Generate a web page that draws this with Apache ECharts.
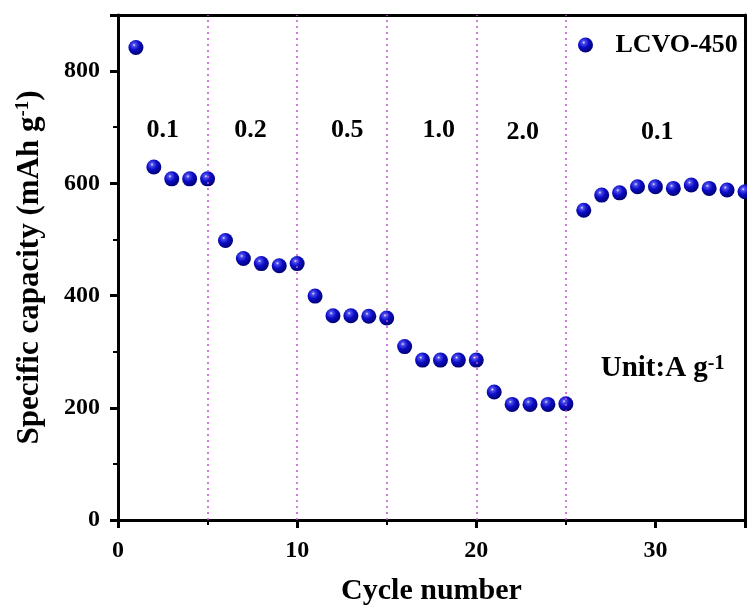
<!DOCTYPE html>
<html>
<head>
<meta charset="utf-8">
<script src="https://cdn.jsdelivr.net/npm/echarts@6/dist/echarts.min.js"></script>
<style>
  html, body { margin: 0; padding: 0; background: #fff; }
  #chart { width: 747px; height: 606px; }
</style>
</head>
<body>
<div id="chart"></div>
<script>
// 循环次数与比容量
const cycles = [1,2,3,4,5,6,7,8,9,10,11,12,13,14,15,16,17,18,19,20,21,22,23,24,25,26,27,28,29,30,31,32,33,34,35];
const capacity = [842,629,608,608,608,498,466,457,453,457,399,364,364,363,360,309,285,285,285,285,228,206,206,206,207,552,579,583,594,594,591,597,591,588,585];
// 电流密度分段
const dividers = [5, 10, 15, 20, 25];
const rateLabels = ['0.1', '0.2', '0.5', '1.0', '2.0', '0.1'];
const rateX = [2.5, 7.4, 12.8, 17.9, 22.6, 30.1];
const rateY = [695, 695, 695, 695, 691, 691];
const unitPoint = [30.4, 270];
const xTicks = [0, 10, 20, 30];
const yTicks = [0, 200, 400, 600, 800];

const FONT = 'Liberation Serif';
const sphere = {
  type: 'radial', x: 0.38, y: 0.33, r: 0.68,
  colorStops: [
    { offset: 0, color: '#f0f0ff' },
    { offset: 0.15, color: '#5050ee' },
    { offset: 0.5, color: '#0c0cc8' },
    { offset: 1, color: '#000070' }
  ]
};

const chart = echarts.init(document.getElementById('chart'));
const option = {
  animation: false,
  backgroundColor: '#fff',
  grid: { left: 118, right: 2, top: 15, bottom: 86, outerBoundsMode: 'none', containLabel: false },
  legend: {
    left: 573, top: 27,
    itemWidth: 40, itemHeight: 15,
    icon: 'circle',
    textStyle: { fontFamily: FONT, fontWeight: 'bold', fontSize: 26, color: '#000', padding: [0, 0, 0, 5] },
    data: ['LCVO-450']
  },
  xAxis: [{
    type: 'value', min: 0, max: 35, interval: 10,
    name: 'Cycle number', nameLocation: 'middle', nameGap: 56,
    nameTextStyle: { fontFamily: FONT, fontWeight: 'bold', fontSize: 30, color: '#000' },
    axisLine: { show: true, onZero: false, lineStyle: { color: '#000', width: 3 } },
    axisTick: { show: true, length: 8, lineStyle: { color: '#000', width: 3 } },
    minorTick: { show: true, splitNumber: 2, length: 5, lineStyle: { color: '#000', width: 2 } },
    axisLabel: {
      fontFamily: FONT, fontWeight: 'bold', fontSize: 24, color: '#000', margin: 19,
      showMaxLabel: false,
      formatter: v => xTicks.includes(v) ? String(v) : ''
    },
    splitLine: { show: false }
  }, {
    type: 'value', min: 0, max: 35, position: 'top',
    axisLine: { show: true, onZero: false, lineStyle: { color: '#000', width: 3 } },
    axisTick: { show: false }, axisLabel: { show: false }, splitLine: { show: false }
  }],
  yAxis: [{
    type: 'value', min: 0, max: 900, interval: 200,
    name: '{m|Specific capacity (mAh g}{s|-1}{m|)}', nameLocation: 'middle', nameGap: 72,
    nameTextStyle: {
      fontFamily: FONT, fontWeight: 'bold', color: '#000',
      rich: {
        m: { fontFamily: FONT, fontWeight: 'bold', fontSize: 31, color: '#000', lineHeight: 32 },
        s: { fontFamily: FONT, fontWeight: 'bold', fontSize: 19, color: '#000', verticalAlign: 'top', lineHeight: 18 }
      }
    },
    axisLine: { show: true, onZero: false, lineStyle: { color: '#000', width: 3 } },
    axisTick: { show: true, length: 8, lineStyle: { color: '#000', width: 3 } },
    minorTick: { show: true, splitNumber: 2, length: 5, lineStyle: { color: '#000', width: 2 } },
    axisLabel: {
      fontFamily: FONT, fontWeight: 'bold', fontSize: 24, color: '#000', margin: 18,
      showMaxLabel: false,
      formatter: v => yTicks.includes(v) ? String(v) : ''
    },
    splitLine: { show: false }
  }, {
    type: 'value', min: 0, max: 900, position: 'right',
    axisLine: { show: true, onZero: false, lineStyle: { color: '#000', width: 3 } },
    axisTick: { show: false }, axisLabel: { show: false }, splitLine: { show: false }
  }],
  series: [{
    name: 'LCVO-450',
    type: 'scatter',
    symbol: 'circle',
    symbolSize: 15,
    itemStyle: { color: sphere, opacity: 1 },
    data: cycles.map((c, i) => [c, capacity[i]]),
    markLine: {
      silent: true,
      symbol: 'none',
      label: { show: false },
      lineStyle: { color: '#c050d0', type: [2, 4], width: 1.5 },
      data: dividers.map(d => ({ xAxis: d }))
    },
    z: 3
  }, {
    name: 'rates',
    type: 'scatter',
    symbolSize: 0,
    silent: true,
    itemStyle: { opacity: 1 },
    label: {
      show: true, position: 'inside',
      fontFamily: FONT, fontWeight: 'bold', fontSize: 26, color: '#000',
      formatter: p => p.name
    },
    data: rateLabels.map((t, i) => ({ name: t, value: [rateX[i], rateY[i]] }))
  }, {
    name: 'unit',
    type: 'scatter',
    symbolSize: 0,
    silent: true,
    itemStyle: { opacity: 1 },
    label: {
      show: true, position: 'inside',
      formatter: '{m|Unit:A g}{s|-1}',
      rich: {
        m: { fontFamily: FONT, fontWeight: 'bold', fontSize: 29, color: '#000', lineHeight: 30 },
        s: { fontFamily: FONT, fontWeight: 'bold', fontSize: 20, color: '#000', verticalAlign: 'top', lineHeight: 18 }
      }
    },
    data: [unitPoint]
  }]
};
chart.setOption(option);
</script>
</body>
</html>
